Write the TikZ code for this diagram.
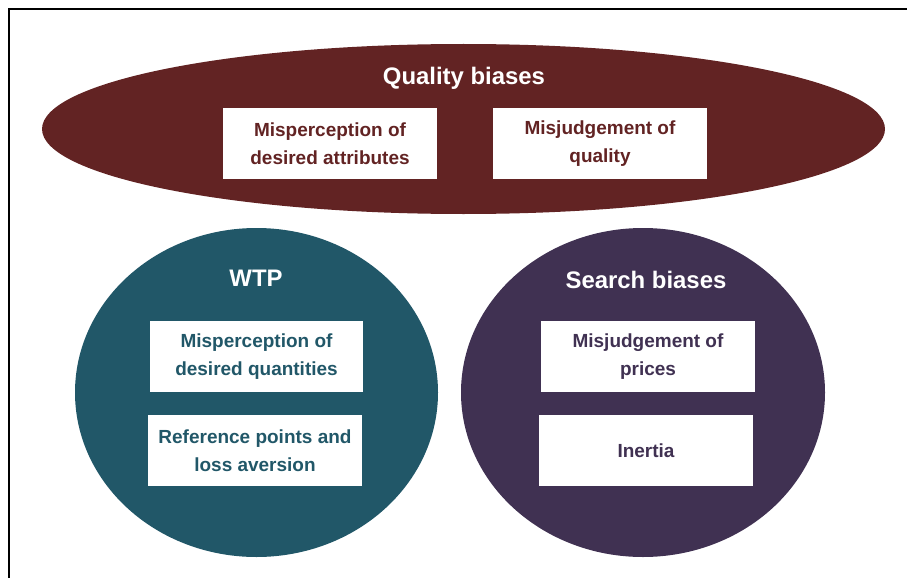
\documentclass[tikz,border=0pt]{standalone}
\usepackage{fontspec}
\setmainfont{Liberation Sans}
\usepackage{tikz}
\usetikzlibrary{fit}
\definecolor{qualred}{RGB}{98,35,35}
\definecolor{wtpteal}{RGB}{33,87,104}
\definecolor{searchpurple}{RGB}{64,49,82}

\tikzset{
	biasbox/.style={fill=white, inner sep=0pt},
	boxtext/.style={align=center, font=\fontsize{13.5}{20}\selectfont\bfseries},
	headtext/.style={text=white, font=\fontsize{17}{20}\selectfont\bfseries}
}

\begin{document}
\begin{tikzpicture}[x=0.025cm, y=-0.025cm]
	\useasboundingbox (0,0) rectangle (907,578);
	\draw[line width=1.4pt] (9,578) -- (9,9) -- (907,9);	% frame

	\fill[qualred] (463.5,129) ellipse [x radius=421.5, y radius=85];	% Quality
	\node[headtext] (QT) at (464,78) {Quality biases};
	\node[biasbox, fit={(223,108) (437,179)}, label={[boxtext, text=qualred]center:Misperception of\\desired attributes}] (QA) {};
	\node[biasbox, fit={(493,108) (707,179)}, label={[boxtext, text=qualred]center:Misjudgement of\\quality}] (QB) {};

	\fill[wtpteal] (256.5,392.5) ellipse [x radius=181.5, y radius=164.5];	% WTP
	\node[headtext] (WT) at (256,278) {WTP};
	\node[biasbox, fit={(150,321) (363,392)}, label={[boxtext, text=wtpteal]center:Misperception of\\desired quantities}] (WA) {};
	\node[biasbox, fit={(148,415) (362,486)}, label={[boxtext, text=wtpteal]center:Reference points and\\loss aversion}] (WB) {};

	\fill[searchpurple] (643,392.5) ellipse [x radius=182, y radius=164.5];	% Search
	\node[headtext] (ST) at (646,280) {Search biases};
	\node[biasbox, fit={(541,321) (755,392)}, label={[boxtext, text=searchpurple]center:Misjudgement of\\prices}] (SA) {};
	\node[biasbox, fit={(539,415) (753,486)}, label={[boxtext, text=searchpurple]center:Inertia}] (SB) {};
\end{tikzpicture}
\end{document}
